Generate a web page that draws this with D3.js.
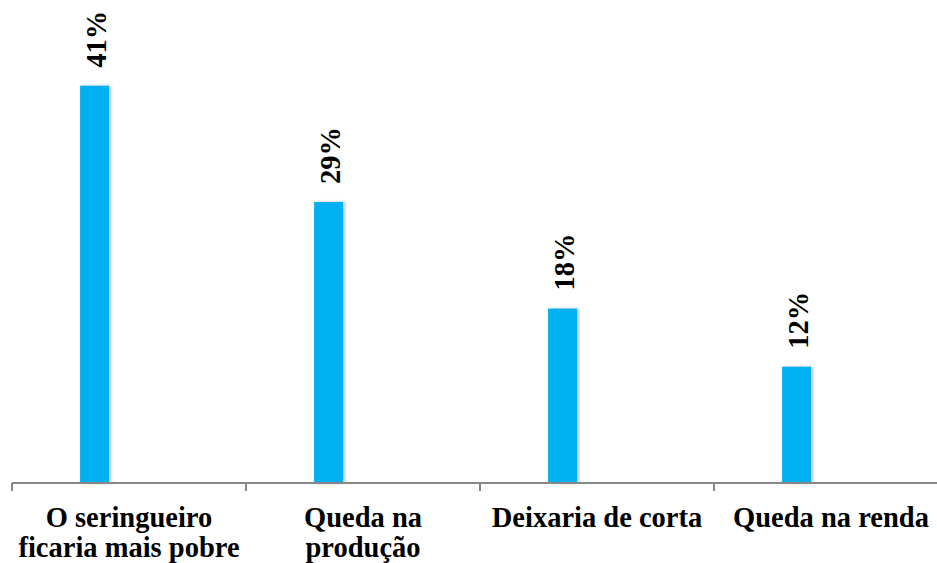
<!DOCTYPE html>
<html lang="pt">
<head>
  <meta charset="utf-8">
  <title>Chart</title>
  <style>
    html,body{margin:0;background:#fff}
    svg{display:block}
    .lbl{font-family:"Liberation Serif","Times New Roman",serif;font-weight:bold;font-size:28.5px;fill:#000}
    .axis line{stroke:#878787;stroke-width:2px}
  </style>
  <script src="https://d3js.org/d3.v7.min.js"></script>
</head>
<body>
  <svg width="937" height="563"></svg>
  <script>
    // data
    const categories=[['O seringueiro','ficaria mais pobre'],['Queda na','produção'],['Deixaria de corta'],['Queda na renda']];
    const values=[41,29,18,12];
    const valueLabels=['41%','29%','18%','12%'];

    const svg=d3.select('svg');
    const base=483;
    const x=d3.scaleBand().domain(d3.range(categories.length)).range([12,948]).padding(0);
    const y=d3.scaleLinear().domain([0,50]).range([base,-1.5]);

    // soft shadow on the bars
    const defs=svg.append('defs');
    const f=defs.append('filter').attr('id','sh').attr('x','-30%').attr('y','-10%').attr('width','160%').attr('height','120%');
    f.append('feDropShadow').attr('dx',2).attr('dy',0).attr('stdDeviation',1.5).attr('flood-color','#000').attr('flood-opacity',.25);

    const bw=x.bandwidth();
    const barW=bw*0.124, barOff=bw*0.291;

    svg.append('g').selectAll('rect').data(values).enter().append('rect')
      .attr('x',(d,i)=>x(i)+barOff).attr('width',barW)
      .attr('y',d=>y(d)).attr('height',d=>base-y(d))
      .attr('fill','#00B0F0').attr('filter','url(#sh)');

    // value labels, rotated
    svg.append('g').selectAll('text').data(values).enter().append('text')
      .attr('class','lbl')
      .attr('transform',(d,i)=>`translate(${x(i)+barOff+barW/2+11},${y(d)-18}) rotate(-90)`)
      .attr('text-anchor','start')
      .text((d,i)=>valueLabels[i]);

    // axis
    const ax=svg.append('g').attr('class','axis');
    ax.append('line').attr('x1',12).attr('x2',937).attr('y1',base).attr('y2',base);
    ax.selectAll('line.t').data(d3.range(categories.length)).enter().append('line').attr('class','t')
      .attr('x1',d=>x(d)).attr('x2',d=>x(d)).attr('y1',base).attr('y2',base+8);

    // category labels
    const cl=svg.append('g').selectAll('text').data(categories).enter().append('text')
      .attr('class','lbl').attr('text-anchor','middle')
      .attr('x',(d,i)=>x(i)+bw/2).attr('y',527);
    cl.selectAll('tspan').data(d=>d).enter().append('tspan')
      .attr('x',function(){return this.parentNode.getAttribute('x')})
      .attr('dy',(d,j)=>j?30:0).text(d=>d);
  </script>
</body>
</html>
